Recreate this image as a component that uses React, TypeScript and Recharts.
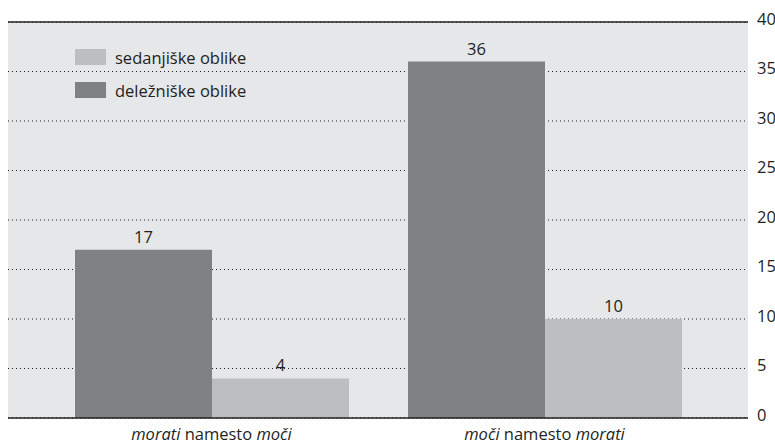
import { BarChart, Bar, XAxis, YAxis, CartesianGrid, ReferenceLine, LabelList, Legend } from "recharts";

const categories = ["morati namesto moči", "moči namesto morati"];
const italicWords = ["morati", "moči"];
const delezniske = [17, 36];
const sedanjiske = [4, 10];
const yTicks = [0, 5, 10, 15, 20, 25, 30, 35, 40];

const FONT = "'Open Sans', sans-serif";
const FS = 16.5;
const INK = "#231f20";
const DARK = "#808184";
const LIGHT = "#bcbec0";
const BG = "#e6e7e8";

const data = categories.map((cat, i) => ({
  cat,
  del: delezniske[i],
  sed: sedanjiske[i],
}));

function CatTick({ x, y, payload }: any) {
  const words = String(payload.value).split(" ");
  return (
    <text x={x} y={y} dy="0.71em" textAnchor="middle" fill={INK} fontSize={FS} fontFamily={FONT}>
      {words.map((w, i) => (
        <tspan key={i} fontStyle={italicWords.includes(w) ? "italic" : "normal"}>
          {(i > 0 ? " " : "") + w}
        </tspan>
      ))}
    </text>
  );
}

function LegendBox({ payload }: any) {
  const items = [...(payload ?? [])].reverse();
  return (
    <div style={{ fontFamily: FONT, fontSize: FS, color: INK }}>
      {items.map((it: any) => (
        <div key={it.value} style={{ display: "flex", alignItems: "center", height: 16, marginBottom: 17 }}>
          <span style={{ display: "inline-block", width: 31, height: 16, background: it.color, marginRight: 9 }} />
          <span>{it.value}</span>
        </div>
      ))}
    </div>
  );
}

export default function App() {
  return (
    <div style={{ width: 775, height: 445 }}>
      <style>{"body{margin:0}"}</style>
      <BarChart
        width={775}
        height={445}
        data={data}
        margin={{ top: 22, right: 0, bottom: 0, left: 8 }}
        barCategoryGap={30}
        barGap={0}
      >
        <CartesianGrid
          horizontal
          vertical={false}
          fill={BG}
          stroke={INK}
          strokeDasharray="1 3"
        />
        <XAxis
          dataKey="cat"
          padding={{ left: 37, right: 37 }}
          axisLine={false}
          tickLine={false}
          tickSize={0}
          tickMargin={10}
          height={27}
          tick={<CatTick />}
          interval={0}
        />
        <YAxis
          orientation="right"
          domain={[0, 40]}
          ticks={yTicks}
          axisLine={false}
          tickLine={false}
          tickSize={0}
          tickMargin={9}
          width={27}
          tick={{ fill: INK, fontSize: FS, fontFamily: FONT, dy: -3 }}
        />
        <Legend
          layout="vertical"
          align="center"
          verticalAlign="middle"
          wrapperStyle={{ top: 49, left: 75, width: "auto" }}
          content={<LegendBox />}
        />
        <Bar dataKey="del" name="deležniške oblike" fill={DARK} isAnimationActive={false}>
          <LabelList dataKey="del" position="top" offset={7} fill={INK} fontSize={FS} fontFamily={FONT} />
        </Bar>
        <Bar dataKey="sed" name="sedanjiške oblike" fill={LIGHT} isAnimationActive={false}>
          <LabelList dataKey="sed" position="top" offset={7} fill={INK} fontSize={FS} fontFamily={FONT} />
        </Bar>
        <ReferenceLine y={40} stroke={INK} strokeWidth={1.5} />
        <ReferenceLine y={0} stroke={INK} strokeWidth={1.5} />
      </BarChart>
    </div>
  );
}
